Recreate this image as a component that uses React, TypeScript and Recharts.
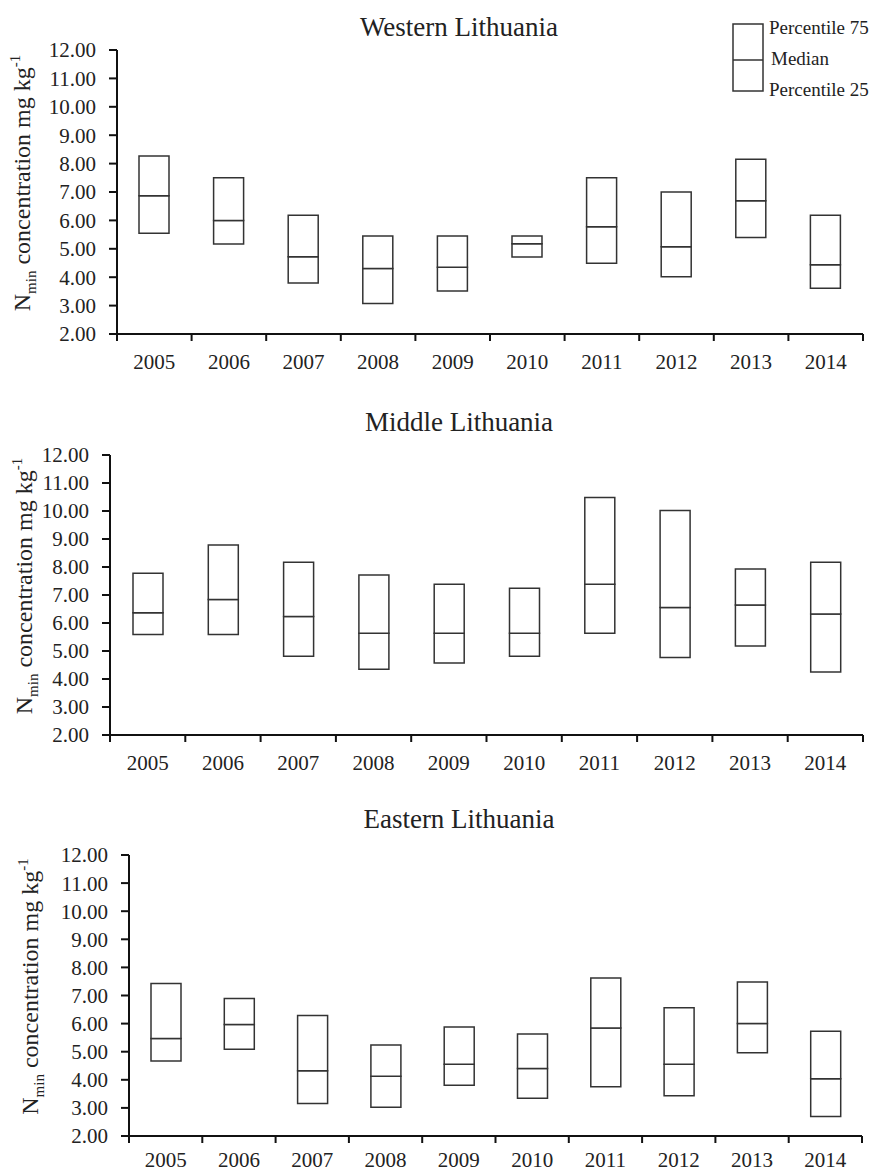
import React from "react";
import { ComposedChart, Bar, XAxis, YAxis } from "recharts";

const years = ["2005", "2006", "2007", "2008", "2009", "2010", "2011", "2012", "2013", "2014"];

// Western Lithuania
const westP25 = [5.55, 5.17, 3.8, 3.07, 3.51, 4.71, 4.49, 4.02, 5.4, 3.61];
const westMed = [6.87, 6.0, 4.72, 4.31, 4.35, 5.18, 5.78, 5.07, 6.69, 4.44];
const westP75 = [8.27, 7.5, 6.18, 5.45, 5.45, 5.45, 7.5, 7.0, 8.15, 6.18];

// Middle Lithuania
const midP25 = [5.59, 5.59, 4.81, 4.35, 4.57, 4.81, 5.63, 4.77, 5.18, 4.25];
const midMed = [6.37, 6.84, 6.23, 5.63, 5.63, 5.63, 7.38, 6.55, 6.64, 6.32];
const midP75 = [7.78, 8.79, 8.17, 7.71, 7.38, 7.24, 10.48, 10.02, 7.93, 8.17];

// Eastern Lithuania
const eastP25 = [4.67, 5.09, 3.16, 3.02, 3.81, 3.34, 3.75, 3.43, 4.96, 2.69];
const eastMed = [5.47, 5.97, 4.32, 4.13, 4.55, 4.4, 5.84, 4.55, 6.0, 4.04];
const eastP75 = [7.43, 6.89, 6.29, 5.24, 5.88, 5.63, 7.62, 6.56, 7.48, 5.73];

const yTicks = [2, 3, 4, 5, 6, 7, 8, 9, 10, 11, 12];

const FONT = '"Liberation Serif", "Times New Roman", serif';
const INK = "#222";

const buildRows = (p25: number[], med: number[], p75: number[]) =>
  years.map((year, i) => ({
    year,
    base: p25[i],
    lower: med[i] - p25[i],
    upper: p75[i] - med[i],
  }));

const panels = [
  {
    title: "Western Lithuania",
    rows: buildRows(westP25, westMed, westP75),
    plotTop: 50, plotBottom: 334, plotLeft: 117, plotRight: 863,
    titleY: 36, labelX: 30, labelGap: 13,
  },
  {
    title: "Middle Lithuania",
    rows: buildRows(midP25, midMed, midP75),
    plotTop: 455, plotBottom: 735, plotLeft: 110, plotRight: 863,
    titleY: 431, labelX: 32, labelGap: 13,
  },
  {
    title: "Eastern Lithuania",
    rows: buildRows(eastP25, eastMed, eastP75),
    plotTop: 855, plotBottom: 1136, plotLeft: 129, plotRight: 862,
    titleY: 828, labelX: 38, labelGap: 9,
  },
];

const YearTick = (props: any) => {
  const { x, y, payload, index, band, gap } = props;
  const top = y - 7 - gap;
  return (
    <g>
      <line x1={x - band / 2} x2={x - band / 2} y1={top} y2={top + 7} stroke="#111" strokeWidth={2} />
      {index === years.length - 1 && (
        <line x1={x + band / 2} x2={x + band / 2} y1={top} y2={top + 7} stroke="#111" strokeWidth={2} />
      )}
      <text x={x} y={y} dy="0.71em" textAnchor="middle" fontSize={21} fill={INK} fontFamily={FONT}>
        {payload.value}
      </text>
    </g>
  );
};

const Panel = ({ p }: { p: (typeof panels)[number] }) => {
  const padTop = 60;
  const padBottom = 56;
  const yAxisW = 80;
  const xAxisH = 30;
  const height = p.plotBottom - p.plotTop + padTop + padBottom;
  const band = (p.plotRight - p.plotLeft) / years.length;
  return (
    <div style={{ position: "absolute", left: 0, top: p.plotTop - padTop, width: 872, height }}>
      <ComposedChart
        width={872}
        height={height}
        data={p.rows}
        margin={{ top: padTop, right: 872 - p.plotRight, left: p.plotLeft - yAxisW, bottom: padBottom - xAxisH }}
        barCategoryGap={0}
      >
        <XAxis
          dataKey="year"
          height={xAxisH}
          interval={0}
          tickLine={false}
          tickSize={7}
          tickMargin={p.labelGap}
          axisLine={{ stroke: "#111", strokeWidth: 2 }}
          tick={(t: any) => <YearTick {...t} band={band} gap={p.labelGap} />}
        />
        <YAxis
          type="number"
          domain={[2, 12]}
          ticks={yTicks}
          interval={0}
          allowDataOverflow
          width={yAxisW}
          tickSize={8}
          tickMargin={13}
          tickFormatter={(v: number) => v.toFixed(2)}
          axisLine={{ stroke: "#111", strokeWidth: 2 }}
          tickLine={{ stroke: "#111", strokeWidth: 2 }}
          tick={{ fontSize: 21, fill: INK, fontFamily: FONT }}
        />
        <Bar dataKey="base" stackId="box" fill="transparent" barSize={30} isAnimationActive={false} />
        <Bar dataKey="lower" stackId="box" fill="#fff" stroke="#333" strokeWidth={1.5} barSize={30} isAnimationActive={false} />
        <Bar dataKey="upper" stackId="box" fill="#fff" stroke="#333" strokeWidth={1.5} barSize={30} isAnimationActive={false} />
      </ComposedChart>
    </div>
  );
};

const App = () => {
  return (
    <div
      style={{
        position: "absolute",
        left: 0,
        top: 0,
        width: 872,
        height: 1173,
        overflow: "hidden",
        background: "#fff",
        fontFamily: FONT,
      }}
    >
      {panels.map((p) => (
        <Panel key={p.title} p={p} />
      ))}
      <svg width={872} height={1173} style={{ position: "absolute", left: 0, top: 0, pointerEvents: "none" }}>
        {panels.map((p) => {
          const cy = (p.plotTop + p.plotBottom) / 2 - 9;
          return (
            <g key={p.title}>
              <text x={459} y={p.titleY} textAnchor="middle" fontSize={27} fill={INK} fontFamily={FONT}>
                {p.title}
              </text>
              <text
                transform={`translate(${p.labelX}, ${cy}) rotate(-90)`}
                textAnchor="middle"
                fontSize={24}
                fill={INK}
                fontFamily={FONT}
              >
                N
                <tspan fontSize={15} dy={6}>min</tspan>
                <tspan fontSize={24} dy={-6}> concentration mg kg</tspan>
                <tspan fontSize={15} dy={-10}>-1</tspan>
              </text>
            </g>
          );
        })}
        <g fontFamily={FONT} fill={INK} fontSize={19}>
          <rect x={733} y={24} width={30} height={67} fill="#fff" stroke="#333" strokeWidth={1.5} />
          <line x1={733} x2={763} y1={60} y2={60} stroke="#333" strokeWidth={1.5} />
          <text x={769} y={27} dominantBaseline="central">Percentile 75</text>
          <text x={771} y={58} dominantBaseline="central">Median</text>
          <text x={769} y={89} dominantBaseline="central">Percentile 25</text>
        </g>
      </svg>
    </div>
  );
};

export default App;
